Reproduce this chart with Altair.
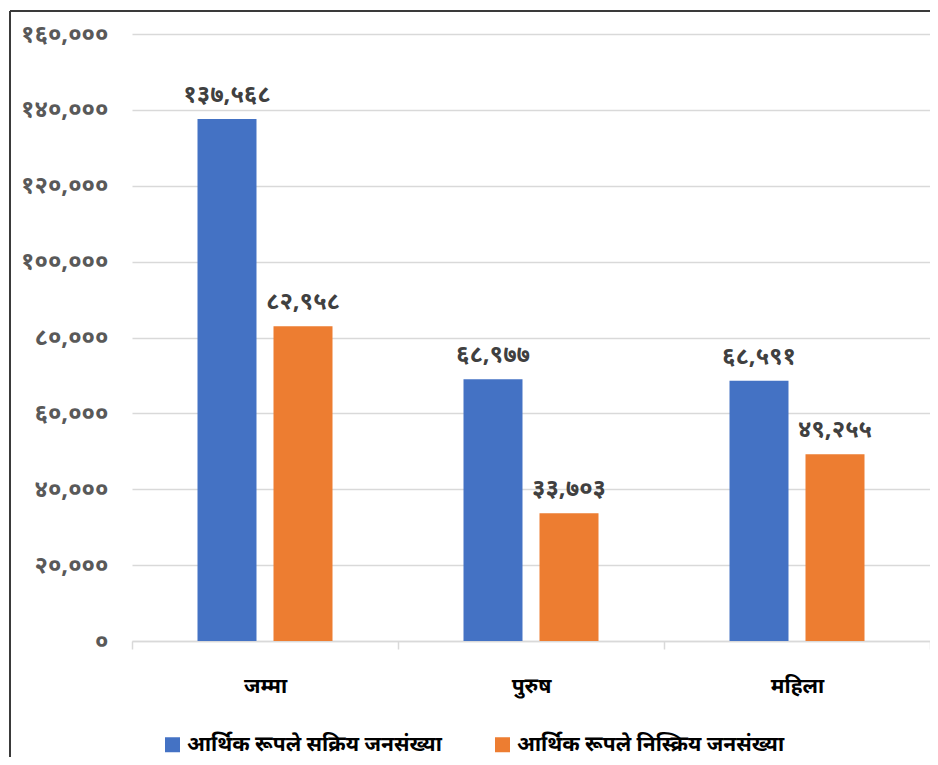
import altair as alt
import pandas as pd

categories = ["जम्मा", "पुरुष", "महिला"]
series = ["आर्थिक रूपले सक्रिय जनसंख्या", "आर्थिक रूपले निस्क्रिय जनसंख्या"]
active = [137568, 68977, 68591]
inactive = [82958, 33703, 49255]
colors = ["#4472C4", "#ED7D31"]
y_ticks = [0, 20000, 40000, 60000, 80000, 100000, 120000, 140000, 160000]

FONT = "Noto Sans"
DEV = "०१२३४५६७८९"


def dev_expr(field):
    e = f"format({field}, ',')"
    for i, d in enumerate(DEV):
        e = f"replace({e}, regexp('{i}', 'g'), '{d}')"
    return e


rows = []
for i, c in enumerate(categories):
    rows.append({"cat": c, "series": series[0], "value": active[i]})
    rows.append({"cat": c, "series": series[1], "value": inactive[i]})
df = pd.DataFrame(rows)

x = alt.X(
    "cat:N", sort=categories,
    scale=alt.Scale(paddingInner=0, paddingOuter=0),
    axis=alt.Axis(title=None, labelAngle=0, labelFont=FONT, labelFontSize=21,
                  labelFontWeight="bold", labelColor="#000000", labelPadding=26,
                  domainColor="#D9D9D9", domainWidth=1.5, tickColor="#D9D9D9",
                  tickSize=8, tickWidth=1.5, tickBand="extent", grid=False),
)
xo = alt.XOffset("series:N", sort=series,
                 scale=alt.Scale(paddingInner=0.2237, paddingOuter=0.8618))
y = alt.Y(
    "value:Q", scale=alt.Scale(domain=[0, 160000], nice=False),
    axis=alt.Axis(title=None, values=y_ticks, labelExpr=dev_expr("datum.value"),
                  labelFont=FONT, labelFontSize=24, labelFontWeight="bold",
                  labelColor="#595959", labelPadding=24, domain=False, ticks=False,
                  gridColor="#D9D9D9", gridWidth=1.5),
)
color = alt.Color(
    "series:N", sort=series,
    scale=alt.Scale(domain=series, range=colors),
    legend=alt.Legend(title=None, orient="none", direction="horizontal",
                      legendX=30, legendY=700, symbolType="square", symbolSize=225,
                      symbolStrokeWidth=0, labelFont=FONT, labelFontSize=21,
                      labelFontWeight="bold", labelColor="#000000",
                      columnPadding=50, labelLimit=0, labelOffset=4),
)

base = alt.Chart(df)
bars = base.mark_bar().encode(x=x, xOffset=xo, y=y, color=color)
labels = base.transform_calculate(label=dev_expr("datum.value")).mark_text(
    baseline="alphabetic", dy=-17, font=FONT, fontSize=24, fontWeight="bold",
    color="#404040").encode(x=x, xOffset=xo, y=y, text="label:N")

one = pd.DataFrame({"a": [0]})
frame_top = alt.Chart(one).mark_rule(color="#3A3A3A", strokeWidth=2).encode(
    x=alt.value(-122), x2=alt.value(798), y=alt.value(-23))
frame_left = alt.Chart(one).mark_rule(color="#3A3A3A", strokeWidth=2).encode(
    x=alt.value(-122), y=alt.value(-23), y2=alt.value(723))

chart = alt.layer(bars, labels, frame_top, frame_left).properties(
    width=798, height=607,
    autosize=alt.AutoSizeParams(type="none"),
    padding={"left": 124, "top": 26, "right": 0, "bottom": 116},
    background="white",
).configure_view(stroke=None)

chart.save("out.html", embed_options={"renderer": "svg", "actions": False})
